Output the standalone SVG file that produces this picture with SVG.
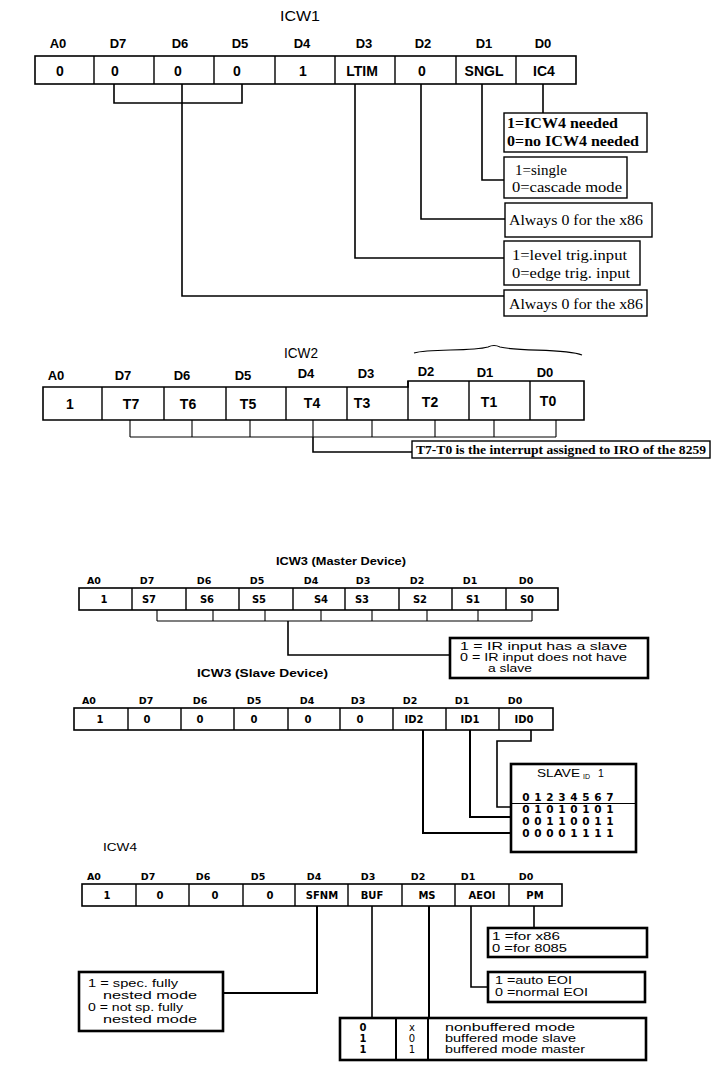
<svg xmlns="http://www.w3.org/2000/svg" width="722" height="1072" viewBox="0 0 722 1072">
<style>
.reg{fill:#fff;stroke:#000;stroke-width:1.6}
.div{stroke:#000;stroke-width:1.4}
.box{fill:#fff;stroke:#000;stroke-width:1.4}
.tbox{fill:#fff;stroke:#000;stroke-width:2.6}
.wire{fill:none;stroke:#000;stroke-width:1.6}
.wb{fill:none;stroke:#000;stroke-width:2}
.thin{fill:none;stroke:#000;stroke-width:1.1}
.t1{font-family:"Liberation Sans",Arial,sans-serif;font-size:14px}
.h1{font-family:"Liberation Sans",Arial,sans-serif;font-size:13px;font-weight:bold;text-anchor:middle}
.v1{font-family:"Liberation Sans",Arial,sans-serif;font-size:14px;font-weight:bold;text-anchor:middle}
.s1{font-family:"Liberation Serif","Times New Roman",serif;font-size:15px}
.sb{font-family:"Liberation Serif","Times New Roman",serif;font-size:15px;font-weight:bold}
.h3{font-family:"DejaVu Sans","Liberation Sans",sans-serif;font-size:9.5px;font-weight:bold;text-anchor:middle}
.v3{font-family:"DejaVu Sans","Liberation Sans",sans-serif;font-size:10px;font-weight:bold;text-anchor:middle}
.n3{font-family:"Liberation Sans",Arial,sans-serif;font-size:10.5px}
.ti3{font-family:"Liberation Sans",Arial,sans-serif;font-size:10.5px;font-weight:bold}
.dg{font-family:"DejaVu Sans","Liberation Sans",sans-serif;font-size:10.5px;font-weight:bold;text-anchor:middle}
</style>
<rect width="722" height="1072" fill="#fff"/>

<!-- ===== ICW1 ===== -->
<g id="icw1-register">
<text class="t1" x="280" y="21" textLength="40" lengthAdjust="spacingAndGlyphs">ICW1</text>
<text class="h1" x="58" y="48">A0</text>
<text class="h1" x="118" y="48">D7</text>
<text class="h1" x="180" y="48">D6</text>
<text class="h1" x="240" y="48">D5</text>
<text class="h1" x="302" y="48">D4</text>
<text class="h1" x="364" y="48">D3</text>
<text class="h1" x="423" y="48">D2</text>
<text class="h1" x="484" y="48">D1</text>
<text class="h1" x="543" y="48">D0</text>
<rect class="reg" x="35" y="56" width="541" height="28"/>
<path class="div" d="M94,56V84M154,56V84M214,56V84M275,56V84M335,56V84M395,56V84M456,56V84M516,56V84"/>
<text class="v1" x="60" y="76">0</text>
<text class="v1" x="115" y="76">0</text>
<text class="v1" x="178" y="76">0</text>
<text class="v1" x="237" y="76">0</text>
<text class="v1" x="303" y="76">1</text>
<text class="v1" x="362" y="76">LTIM</text>
<text class="v1" x="422" y="76">0</text>
<text class="v1" x="484" y="76">SNGL</text>
<text class="v1" x="544" y="76">IC4</text>
</g>

<g id="icw1-ic4">
<rect class="box" x="504" y="113" width="143" height="39"/>
<text class="sb" x="507" y="128" textLength="111" lengthAdjust="spacingAndGlyphs">1=ICW4 needed</text>
<text class="sb" x="507" y="146" textLength="132" lengthAdjust="spacingAndGlyphs">0=no ICW4 needed</text>
</g>
<g id="icw1-sngl">
<rect class="box" x="504" y="157" width="123" height="41"/>
<text class="s1" x="515" y="175">1=single</text>
<text class="s1" x="512" y="192" textLength="110" lengthAdjust="spacingAndGlyphs">0=cascade mode</text>
</g>
<g id="icw1-d2">
<rect class="box" x="505" y="203" width="147" height="34"/>
<text class="s1" x="509" y="225" textLength="134" lengthAdjust="spacingAndGlyphs">Always 0 for the x86</text>
</g>
<g id="icw1-ltim">
<rect class="box" x="504" y="241" width="136" height="44"/>
<text class="s1" x="512" y="260" textLength="115" lengthAdjust="spacingAndGlyphs">1=level trig.input</text>
<text class="s1" x="512" y="278" textLength="118" lengthAdjust="spacingAndGlyphs">0=edge trig. input</text>
</g>
<g id="icw1-d765">
<rect class="box" x="504" y="290" width="143" height="26"/>
<text class="s1" x="509" y="309" textLength="134" lengthAdjust="spacingAndGlyphs">Always 0 for the x86</text>
</g>

<!-- ===== ICW2 ===== -->
<g id="icw2-register">
<text class="t1" x="284" y="358" textLength="34" lengthAdjust="spacingAndGlyphs">ICW2</text>
<path class="thin" d="M414,353 C430,348 470,352 488,347 Q494,344 500,347 C520,352 565,348 582,355"/>
<text class="h1" x="56" y="380">A0</text>
<text class="h1" x="123" y="380">D7</text>
<text class="h1" x="182" y="380">D6</text>
<text class="h1" x="243" y="380">D5</text>
<text class="h1" x="306" y="378">D4</text>
<text class="h1" x="366" y="378">D3</text>
<text class="h1" x="426" y="376">D2</text>
<text class="h1" x="485" y="377">D1</text>
<text class="h1" x="545" y="377">D0</text>
<path class="reg" d="M43,387H408V381H584V420H43Z"/>
<path class="div" d="M102,387V420M164,387V420M226,387V420M286,387V420M347,387V420M408,381V420M469,381V420M530,381V420"/>
<text class="v1" x="70" y="409">1</text>
<text class="v1" x="131" y="409">T7</text>
<text class="v1" x="188" y="409">T6</text>
<text class="v1" x="248" y="409">T5</text>
<text class="v1" x="312" y="408">T4</text>
<text class="v1" x="362" y="408">T3</text>
<text class="v1" x="430" y="407">T2</text>
<text class="v1" x="489" y="407">T1</text>
<text class="v1" x="548" y="406">T0</text>
</g>
<g id="icw2-note">
<rect class="box" x="412" y="441" width="298" height="17"/>
<text class="sb" x="416" y="454" style="font-size:13px" textLength="290" lengthAdjust="spacingAndGlyphs">T7-T0 is the interrupt assigned to IRO of the 8259</text>
</g>

<!-- ===== ICW3 Master ===== -->
<g id="icw3-master-register">
<text class="ti3" x="276" y="565" textLength="130" lengthAdjust="spacingAndGlyphs">ICW3 (Master Device)</text>
<text class="h3" x="94" y="584">A0</text>
<text class="h3" x="147" y="584">D7</text>
<text class="h3" x="204" y="584">D6</text>
<text class="h3" x="257" y="584">D5</text>
<text class="h3" x="311" y="584">D4</text>
<text class="h3" x="363" y="584">D3</text>
<text class="h3" x="417" y="584">D2</text>
<text class="h3" x="470" y="584">D1</text>
<text class="h3" x="526" y="584">D0</text>
<rect class="reg" x="79" y="588" width="479" height="22"/>
<path class="div" d="M132,588V610M186,588V610M239,588V610M293,588V610M345,588V610M399,588V610M452,588V610M506,588V610"/>
<text class="v3" x="104" y="603">1</text>
<text class="v3" x="149" y="603">S7</text>
<text class="v3" x="207" y="603">S6</text>
<text class="v3" x="259" y="603">S5</text>
<text class="v3" x="321" y="603">S4</text>
<text class="v3" x="362" y="603">S3</text>
<text class="v3" x="420" y="603">S2</text>
<text class="v3" x="473" y="603">S1</text>
<text class="v3" x="527" y="603">S0</text>
</g>
<g id="icw3-master-note">
<rect class="tbox" x="450" y="638" width="198" height="40"/>
<text class="n3" x="460" y="650" textLength="167" lengthAdjust="spacingAndGlyphs">1 = IR input has a slave</text>
<text class="n3" x="460" y="661" textLength="167" lengthAdjust="spacingAndGlyphs">0 = IR input does not have</text>
<text class="n3" x="488" y="672" textLength="44" lengthAdjust="spacingAndGlyphs">a slave</text>
</g>

<!-- ===== ICW3 Slave ===== -->
<g id="icw3-slave-register">
<text class="ti3" x="197" y="677" textLength="131" lengthAdjust="spacingAndGlyphs">ICW3 (Slave Device)</text>
<text class="h3" x="89" y="704">A0</text>
<text class="h3" x="146" y="704">D7</text>
<text class="h3" x="200" y="704">D6</text>
<text class="h3" x="254" y="704">D5</text>
<text class="h3" x="307" y="704">D4</text>
<text class="h3" x="358" y="704">D3</text>
<text class="h3" x="410" y="704">D2</text>
<text class="h3" x="462" y="704">D1</text>
<text class="h3" x="515" y="704">D0</text>
<rect class="reg" x="74" y="708" width="479" height="22"/>
<path class="div" d="M128,708V730M181,708V730M234,708V730M288,708V730M340,708V730M393,708V730M446,708V730M499,708V730"/>
<text class="v3" x="100" y="723">1</text>
<text class="v3" x="147" y="723">0</text>
<text class="v3" x="200" y="723">0</text>
<text class="v3" x="254" y="723">0</text>
<text class="v3" x="308" y="723">0</text>
<text class="v3" x="360" y="723">0</text>
<text class="v3" x="414" y="723">ID2</text>
<text class="v3" x="470" y="723">ID1</text>
<text class="v3" x="524" y="723">ID0</text>
</g>
<g id="icw3-slave-table">
<rect class="tbox" x="511" y="764" width="125" height="88"/>
<text class="n3" x="537" y="777" textLength="43" lengthAdjust="spacingAndGlyphs">SLAVE</text>
<text class="n3" x="583" y="779" style="font-size:7px">ID</text>
<text class="n3" x="598" y="777">1</text>
<line class="thin" x1="511" y1="803.5" x2="636" y2="803.5"/>
<text class="dg" x="526 538 550 562 574 586 598 610" y="801">01234567</text>
<text class="dg" x="526 538 550 562 574 586 598 610" y="813">01010101</text>
<text class="dg" x="526 538 550 562 574 586 598 610" y="825">00110011</text>
<text class="dg" x="526 538 550 562 574 586 598 610" y="837">00001111</text>
</g>

<!-- ===== ICW4 ===== -->
<g id="icw4-register">
<text class="n3" x="103" y="851" textLength="34" lengthAdjust="spacingAndGlyphs">ICW4</text>
<text class="h3" x="94" y="880">A0</text>
<text class="h3" x="148" y="880">D7</text>
<text class="h3" x="203" y="880">D6</text>
<text class="h3" x="258" y="880">D5</text>
<text class="h3" x="314" y="880">D4</text>
<text class="h3" x="368" y="880">D3</text>
<text class="h3" x="418" y="880">D2</text>
<text class="h3" x="468" y="880">D1</text>
<text class="h3" x="526" y="880">D0</text>
<rect class="reg" x="82" y="884" width="480" height="22"/>
<path class="div" d="M136,884V906M189,884V906M243,884V906M295,884V906M348,884V906M402,884V906M455,884V906M509,884V906"/>
<text class="v3" x="107" y="899">1</text>
<text class="v3" x="160" y="899">0</text>
<text class="v3" x="215" y="899">0</text>
<text class="v3" x="270" y="899">0</text>
<text class="v3" x="322" y="899">SFNM</text>
<text class="v3" x="372" y="899">BUF</text>
<text class="v3" x="427" y="899">MS</text>
<text class="v3" x="482" y="899">AEOI</text>
<text class="v3" x="535" y="899">PM</text>
</g>
<g id="icw4-pm">
<rect class="tbox" x="488" y="928" width="159" height="29"/>
<text class="n3" x="492" y="940" textLength="68" lengthAdjust="spacingAndGlyphs">1 =for x86</text>
<text class="n3" x="492" y="952" textLength="75" lengthAdjust="spacingAndGlyphs">0 =for 8085</text>
</g>
<g id="icw4-aeoi">
<rect class="tbox" x="488" y="972" width="157" height="30"/>
<text class="n3" x="495" y="984" textLength="77" lengthAdjust="spacingAndGlyphs">1 =auto EOI</text>
<text class="n3" x="495" y="996" textLength="93" lengthAdjust="spacingAndGlyphs">0 =normal EOI</text>
</g>
<g id="icw4-sfnm">
<rect class="tbox" x="79" y="972" width="144" height="59"/>
<text class="n3" x="88" y="987" textLength="90" lengthAdjust="spacingAndGlyphs">1 = spec. fully</text>
<text class="n3" x="103" y="999" textLength="94" lengthAdjust="spacingAndGlyphs">nested mode</text>
<text class="n3" x="88" y="1011" textLength="95" lengthAdjust="spacingAndGlyphs">0 = not sp. fully</text>
<text class="n3" x="103" y="1023" textLength="94" lengthAdjust="spacingAndGlyphs">nested mode</text>
</g>
<g id="icw4-bufms">
<rect class="tbox" x="340" y="1018" width="306" height="42"/>
<line class="wb" x1="396" y1="1018" x2="396" y2="1060"/>
<line class="wb" x1="428" y1="1018" x2="428" y2="1060"/>
<text class="v3" x="363" y="1031">0</text>
<text class="v3" x="363" y="1042">1</text>
<text class="v3" x="363" y="1053">1</text>
<text class="v3" x="412" y="1031" style="font-weight:normal">x</text>
<text class="v3" x="412" y="1042" style="font-weight:normal">0</text>
<text class="v3" x="412" y="1053" style="font-weight:normal">1</text>
<text class="n3" x="445" y="1031" textLength="130" lengthAdjust="spacingAndGlyphs">nonbuffered mode</text>
<text class="n3" x="445" y="1042" textLength="131" lengthAdjust="spacingAndGlyphs">buffered mode slave</text>
<text class="n3" x="445" y="1053" textLength="140" lengthAdjust="spacingAndGlyphs">buffered mode master</text>
</g>

<!-- ===== Connectors ===== -->
<g id="connectors">
<path class="wire" d="M114,84V103H242V84"/>
<path class="wire" d="M182,84V296H504"/>
<path class="wire" d="M355,84V258H504"/>
<path class="wire" d="M421,84V219H505"/>
<path class="wire" d="M482,84V180H504"/>
<path class="wire" d="M543,84V113"/>

<path class="thin" d="M130,420V437M192,420V437M250,420V437M313,420V437M372,420V437M435,420V437M494,420V437M556,420V437M130,437H556"/>
<path class="wire" d="M313,437V452H412"/>

<path class="thin" d="M157,610V621M213,610V621M265,610V621M321,610V621M372,610V621M427,610V621M478,610V621M532,610V621M157,621H532"/>
<path class="wire" d="M288,621V655H450"/>

<path class="wb" d="M423,730V833H511"/>
<path class="wb" d="M470,730V817H511"/>
<path class="wire" d="M531,730V741H497V807H511"/>

<path class="wb" d="M317,906V993H223"/>
<path class="wire" d="M372,906V1018"/>
<path class="wb" d="M429,906V1018"/>
<path class="wire" d="M471,906V987H488"/>
<path class="wire" d="M534,906V928"/>
</g>
</svg>
